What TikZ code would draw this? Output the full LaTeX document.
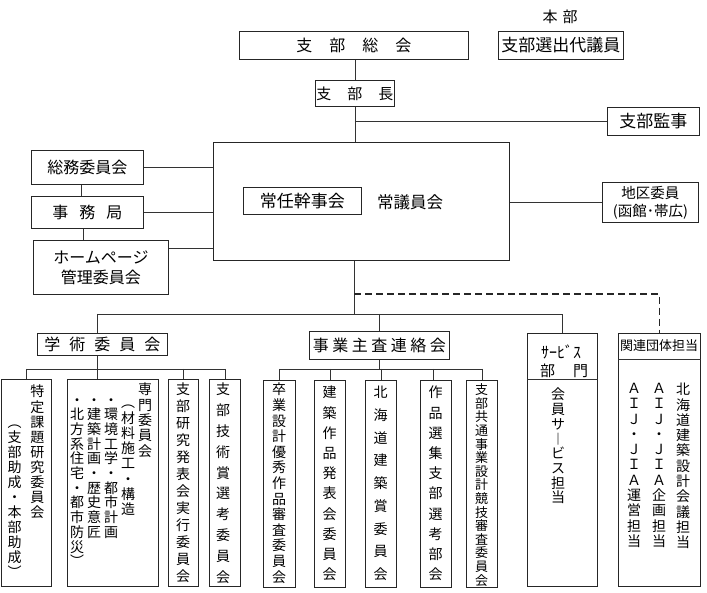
\documentclass[tikz,border=0pt]{standalone}
\usepackage{fontspec}
\setmainfont{Noto Sans CJK JP}
\usetikzlibrary{calc}
\ExplSyntaxOn
\NewDocumentCommand\vst{m}{
  \seq_clear:N \l_tmpa_seq
  \tl_map_inline:nn {#1} { \seq_put_right:Nn \l_tmpa_seq {##1} }
  \seq_use:Nn \l_tmpa_seq {\\}
}
\ExplSyntaxOff
\tikzset{
  box/.style={draw=black!85, line width=0.9pt, inner sep=0pt, anchor=north west},
  ln/.style={draw=black!80, line width=0.9pt},
  dl/.style={draw=black!85, line width=1.4pt, dash pattern=on 7pt off 4pt},
  fs/.style={font=\fontsize{#1}{#1}\selectfont},
  vcol/.style 2 args={font=\fontsize{#1}{#2}\selectfont, align=center, inner sep=0pt, anchor=north}
}
\begin{document}
\begin{tikzpicture}[x=1pt,y=-1pt]
\useasboundingbox[fill=white] (0,0) rectangle (707,593);

% top
\node[fs=15] (honbu) at (560,17) {本\hspace{5pt}部};
\node[box, minimum width=229, minimum height=28, fs=16] (sokai) at (239,31) {支\hspace{17pt}部\hspace{17pt}総\hspace{17pt}会};
\node[box, minimum width=125, minimum height=28, fs=17] (daigi) at (498,31) {支部選出代議員};
\node[box, minimum width=79, minimum height=26, fs=15] (bucho) at (315,80) {支\hspace{16pt}部\hspace{16pt}長};
\node[box, minimum width=92, minimum height=28, fs=17] (kanji) at (607,107) {支部監事};

% center
\node[box, minimum width=296, minimum height=118] (big) at (213,142) {};
\node[box, minimum width=118, minimum height=27, fs=17] (jokan) at (243,187) {常任幹事会};
\node[fs=16.5] (jogiin) at (410,202) {常議員会};
\node[box, minimum width=96, minimum height=40, font=\fontsize{14.5}{18}\selectfont, align=center] (chiku) at (602,182) {地区委員\\(函館･帯広)};

% left
\node[box, minimum width=112, minimum height=34, fs=16] (somu) at (31,150) {総務委員会};
\node[box, minimum width=112, minimum height=32, fs=16] (jimu) at (31,196) {事\hspace{11pt}務\hspace{11pt}局};
\node[box, minimum width=135, minimum height=54, font=\fontsize{16}{20}\selectfont, align=center] (hp) at (33,240) {ホームページ\\管理委員会};

% second level
\node[box, minimum width=130, minimum height=22, fs=16] (gakujutsu) at (37,333) {学\hspace{9pt}術\hspace{9pt}委\hspace{9pt}員\hspace{9pt}会};
\node[box, minimum width=140, minimum height=28, fs=16] (jigyo) at (309,331) {事\hspace{3.5pt}業\hspace{3.5pt}主\hspace{3.5pt}査\hspace{3.5pt}連\hspace{3.5pt}絡\hspace{3.5pt}会};
\node[box, minimum width=70, minimum height=253] (service) at (527,333) {};
\node[box, minimum width=82, minimum height=253] (kanren) at (618,333) {};
\node[fs=16] (svh1) at (561,352) {ｻｰﾋﾞｽ};
\node[fs=15] (svh2) at (564,371) {部\hspace{18pt}門};
\node[fs=13] (krh) at (659,346) {関連団体担当};

% bottom boxes
\node[box, minimum width=50, minimum height=207] (tokutei) at (1,379) {};
\node[box, minimum width=91, minimum height=207] (senmon) at (67,379) {};
\node[box, minimum width=30, minimum height=207] (kenkyu) at (168,379) {};
\node[box, minimum width=31, minimum height=207] (gijutsu) at (209,379) {};
\node[box, minimum width=32, minimum height=207] (sotsugyo) at (263,380) {};
\node[box, minimum width=31, minimum height=207] (kenchiku) at (314,380) {};
\node[box, minimum width=31, minimum height=207] (hokkaido) at (365,380) {};
\node[box, minimum width=31, minimum height=207] (sakuhin) at (420,380) {};
\node[box, minimum width=31, minimum height=207] (kyotsu) at (466,380) {};

% vertical texts
\node[vcol={14}{15.1}] (t1) at (37.5,385) {\vst{特定課題研究委員会}};
\node[vcol={14}{15}] (t2) at (14.5,425) {\vst{︵支部助成・本部助成︶}};
\node[vcol={14}{15.3}] (s1) at (145,383) {\vst{専門委員会}};
\node[vcol={14}{15.3}] (s2) at (128,405) {\vst{︵材料施工・構造}};
\node[vcol={14}{14.7}] (s3) at (111,398) {\vst{・環境工学・都市計画}};
\node[vcol={14}{14.7}] (s4) at (94,398) {\vst{・建築計画・歴史意匠}};
\node[vcol={14}{14.7}] (s5) at (77,398) {\vst{・北方系住宅・都市防災︶}};
\node[vcol={14}{17}] (k1) at (183,383) {\vst{支部研究発表会実行委員会}};
\node[vcol={14}{20.8}] (g1) at (223,383) {\vst{支部技術賞選考委員会}};
\node[vcol={14}{15.6}] (j1) at (279,383) {\vst{卒業設計優秀作品審査委員会}};
\node[vcol={14}{20.2}] (j2) at (329.5,386) {\vst{建築作品発表会委員会}};
\node[vcol={14}{22.75}] (j3) at (380.5,386) {\vst{北海道建築賞委員会}};
\node[vcol={14}{20.2}] (j4) at (435.5,386) {\vst{作品選集支部選考部会}};
\node[vcol={13}{13.6}] (j5) at (481.5,383.5) {\vst{支部共通事業設計競技審査委員会}};
\node[vcol={14}{14.7}] (v1) at (558,388) {\vst{会員サ︱ビス担当}};
\node[vcol={14}{15.3}] (r1) at (683,383) {\vst{北海道建築設計会議担当}};
\node[vcol={14}{15.3}] (r2) at (659,383) {\vst{ＡＩＪ・ＪＩＡ企画担当}};
\node[vcol={14}{15.3}] (r3) at (634,383) {\vst{ＡＩＪ・ＪＩＡ運営担当}};

% dividers
\draw[ln] ([yshift=-46pt]service.north west) -- ([yshift=-46pt]service.north east);
\draw[ln] ([yshift=-26pt]kanren.north west) -- ([yshift=-26pt]kanren.north east);

% connectors
\coordinate (busc) at (354,314);
\coordinate (dash0) at (354,294);
\coordinate (gb) at (0,369);
\draw[ln] (bucho.north |- sokai.south) -- (bucho.north);
\draw[ln] (bucho.south) -- (bucho.south |- big.north);
\draw[ln] (bucho.south |- kanji.west) -- (kanji.west);
\draw[ln] (somu.east) -- (somu.east -| big.west);
\draw[ln] (jimu.east) -- (jimu.east -| big.west);
\draw[ln] ([yshift=-8pt]hp.north east) -- ([yshift=-8pt]hp.north east -| big.west);
\draw[ln] ([xshift=-6pt]somu.south) -- ([xshift=-6pt]jimu.north);
\draw[ln] ([xshift=-4pt]jimu.south) -- ([xshift=-4pt]jimu.south |- hp.north);
\draw[ln] (big.east |- chiku.west) -- (chiku.west);
\draw[ln] (big.south -| busc) -- (busc);
\draw[ln] ([xshift=-5pt]gakujutsu.north |- busc) -- (service.north |- busc) -- (service.north);
\draw[ln] ([xshift=-5pt]gakujutsu.north |- busc) -- ([xshift=-5pt]gakujutsu.north);
\draw[ln] (jigyo.north |- busc) -- (jigyo.north);
\draw[dl] (dash0) -- (dash0 -| kanren.north) -- (kanren.north);
% academic sub-bus
\draw[ln] (tokutei.north |- gb) -- (gijutsu.north |- gb);
\draw[ln] (tokutei.north |- gb) -- (tokutei.north);
\draw[ln] ([xshift=-5pt]gakujutsu.south) -- ([xshift=-5pt]gakujutsu.south |- senmon.north);
\draw[ln] (kenkyu.north |- gb) -- (kenkyu.north);
\draw[ln] (gijutsu.north |- gb) -- (gijutsu.north);
% business sub-bus
\draw[ln] (sotsugyo.north |- gb) -- (kyotsu.north |- gb);
\draw[ln] (jigyo.south) -- (jigyo.south |- gb);
\draw[ln] (sotsugyo.north |- gb) -- (sotsugyo.north);
\draw[ln] (kenchiku.north |- gb) -- (kenchiku.north);
\draw[ln] (hokkaido.north |- gb) -- (hokkaido.north);
\draw[ln] ([xshift=-3pt]sakuhin.north |- gb) -- ([xshift=-3pt]sakuhin.north);
\draw[ln] (kyotsu.north |- gb) -- (kyotsu.north);
\end{tikzpicture}
\end{document}
